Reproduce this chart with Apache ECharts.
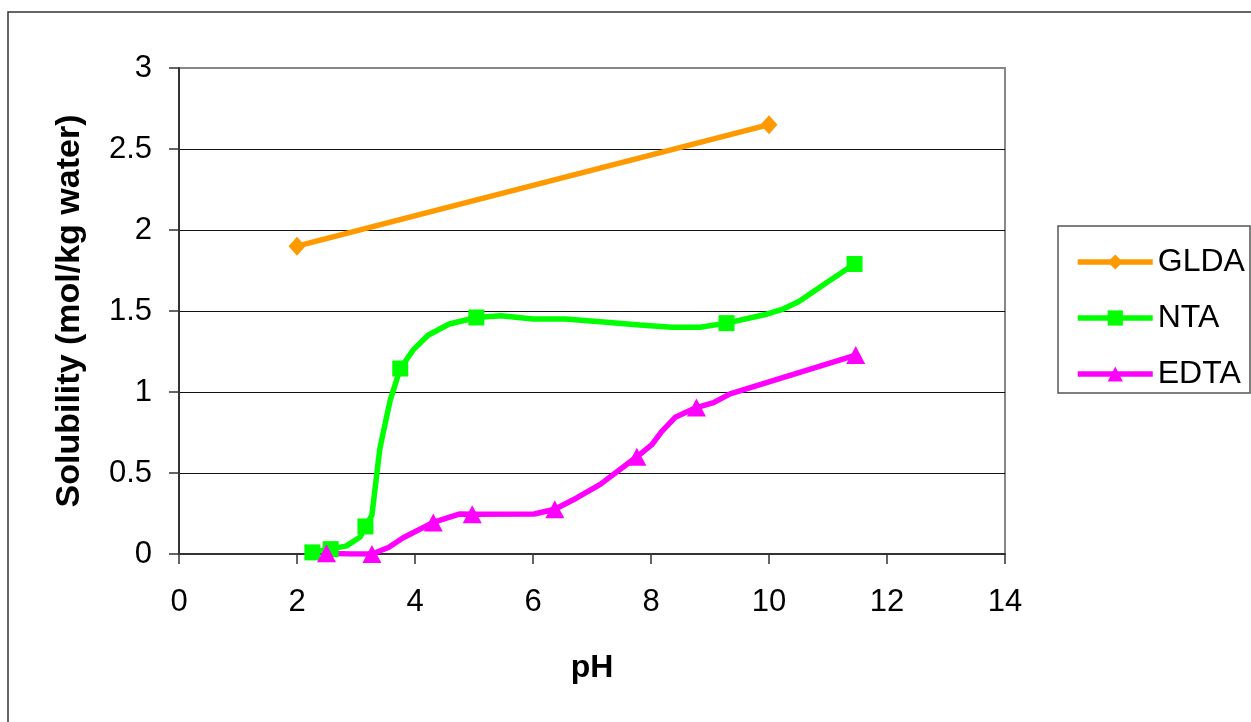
<html>
<head>
    <meta charset="UTF-8">
    <title>Solubility vs pH</title>
    <script src="https://cdn.jsdelivr.net/npm/echarts@6/dist/echarts.min.js"></script>
    <style>
        html, body { margin: 0; padding: 0; background: #fff; }
    </style>
</head>

<body>
    <div id="container" style="width: 1251px;height:722px;"></div>
</body>

<script>
    // GLDA: two measured points
    var gldaPH  = [2, 10];
    var gldaSol = [1.9, 2.65];

    // NTA curve, mark = 1 where Excel drew a marker
    var ntaPH   = [2.26, 2.57, 2.84, 3.07, 3.16, 3.27, 3.40, 3.45, 3.58, 3.75, 3.97, 4.22, 4.58, 5.04,
                   5.46, 6.00, 6.55, 7.14, 7.81, 8.35, 8.83, 9.28, 9.96, 10.24, 10.50, 10.98, 11.45];
    var ntaSol  = [0.01, 0.03, 0.05, 0.105, 0.17, 0.24, 0.64, 0.73, 0.95, 1.145, 1.26, 1.35, 1.42, 1.46,
                   1.47, 1.45, 1.45, 1.434, 1.414, 1.40, 1.40, 1.425, 1.48, 1.512, 1.557, 1.676, 1.79];
    var ntaMark = [1, 1, 0, 0, 1, 0, 0, 0, 0, 1, 0, 0, 0, 1,
                   0, 0, 0, 0, 0, 0, 0, 1, 0, 0, 0, 0, 1];

    // EDTA curve
    var edtaPH   = [2.50, 2.90, 3.27, 3.55, 3.80, 4.31, 4.76, 4.97, 6.02, 6.37, 6.74, 7.14, 7.76,
                    8.01, 8.18, 8.41, 8.77, 9.06, 9.34, 11.47];
    var edtaSol  = [0.005, 0, 0, 0.04, 0.10, 0.195, 0.247, 0.245, 0.247, 0.276, 0.346, 0.43, 0.60,
                    0.673, 0.755, 0.844, 0.904, 0.934, 0.988, 1.228];
    var edtaMark = [1, 0, 1, 0, 0, 1, 0, 1, 0, 1, 0, 0, 1,
                    0, 0, 0, 1, 0, 0, 1];

    var xTicks = [0, 2, 4, 6, 8, 10, 12, 14];
    var yTicks = [0, 0.5, 1, 1.5, 2, 2.5, 3];

    function pairs(xs, ys, marks) {
        var out = [];
        for (var i = 0; i < xs.length; i++) {
            var item = { value: [xs[i], ys[i]] };
            if (marks && !marks[i]) item.symbol = 'none';
            out.push(item);
        }
        return out;
    }

    var FONT = '"Liberation Sans", Arial, sans-serif';
    var LW = 5.5;
    var mycharts = echarts.init(document.getElementById('container'));

    var option = {
        animation: false,
        backgroundColor: '#fff',
        textStyle: { fontFamily: FONT },
        graphic: [
            {
                type: 'rect', silent: true,
                shape: { x: 8, y: 12, width: 1300, height: 800 },
                style: { fill: 'none', stroke: '#333', lineWidth: 1.5 }
            },
            {
                type: 'rect', silent: true,
                shape: { x: 1058, y: 226, width: 192, height: 167 },
                style: { fill: 'none', stroke: '#555', lineWidth: 1.5 }
            }
        ],
        legend: {
            orient: 'vertical',
            left: 1070,
            top: 241,
            itemWidth: 75,
            itemHeight: 19,
            itemGap: 24,
            lineStyle: { width: LW },
            textStyle: { fontFamily: FONT, fontSize: 32, color: '#000', lineHeight: 32 },
            data: ['GLDA', 'NTA', 'EDTA']
        },
        grid: {
            left: 179, right: 246, top: 68, bottom: 168,
            show: true,
            borderColor: '#888',
            borderWidth: 2,
            backgroundColor: '#fff'
        },
        xAxis: {
            type: 'value',
            min: xTicks[0], max: xTicks[xTicks.length - 1], interval: 2,
            name: 'pH',
            nameLocation: 'middle',
            nameGap: 98,
            nameTextStyle: { fontFamily: FONT, fontSize: 32, fontWeight: 'bold', color: '#000' },
            axisLine: { lineStyle: { color: '#333', width: 2 } },
            axisTick: { show: true, inside: false, length: 10, lineStyle: { color: '#333', width: 1.5 } },
            axisLabel: { fontSize: 31, color: '#000', margin: 33, fontFamily: FONT },
            splitLine: { show: false }
        },
        yAxis: {
            type: 'value',
            min: yTicks[0], max: yTicks[yTicks.length - 1], interval: 0.5,
            name: 'Solubility (mol/kg water)',
            nameLocation: 'middle',
            nameGap: 92,
            nameTextStyle: { fontFamily: FONT, fontSize: 34, fontWeight: 'bold', color: '#000' },
            axisLine: { show: true, lineStyle: { color: '#333', width: 2 } },
            axisTick: { show: true, inside: false, length: 10, lineStyle: { color: '#333', width: 1.5 } },
            axisLabel: { fontSize: 31, color: '#000', margin: 27, fontFamily: FONT },
            splitLine: { show: true, showMaxLine: false, lineStyle: { color: '#111', width: 1 } }
        },
        series: [
            {
                name: 'GLDA',
                type: 'line',
                data: pairs(gldaPH, gldaSol),
                symbol: 'diamond',
                symbolSize: [17, 19],
                lineStyle: { color: '#FF9900', width: LW },
                itemStyle: { color: '#FF9900' }
            },
            {
                name: 'NTA',
                type: 'line',
                data: pairs(ntaPH, ntaSol, ntaMark),
                symbol: 'rect',
                symbolSize: 16,
                lineStyle: { color: '#00FF00', width: LW },
                itemStyle: { color: '#00FF00' }
            },
            {
                name: 'EDTA',
                type: 'line',
                data: pairs(edtaPH, edtaSol, edtaMark),
                symbol: 'triangle',
                symbolSize: [19, 18],
                lineStyle: { color: '#FF00FF', width: LW },
                itemStyle: { color: '#FF00FF' }
            }
        ]
    };
    mycharts.setOption(option);
</script>
</html>
